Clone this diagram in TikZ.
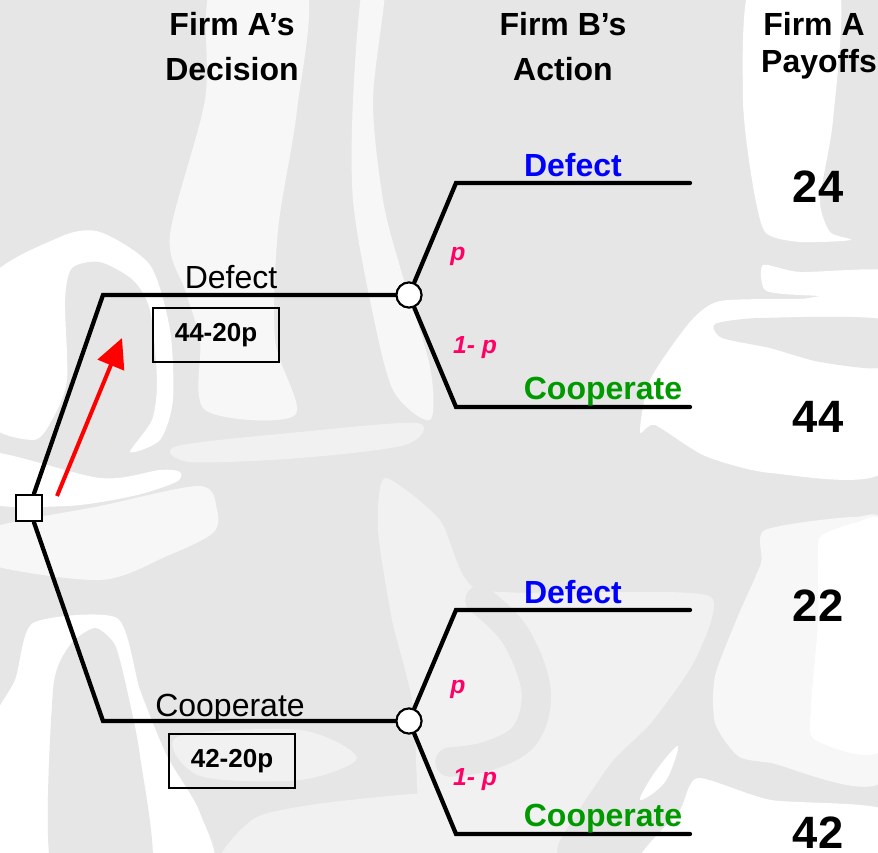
\documentclass[tikz,border=0pt]{standalone}
\usepackage{fontspec}
\setmainfont{Liberation Sans}
\usetikzlibrary{arrows.meta}
\definecolor{bggray}{RGB}{230,230,230}
\definecolor{bglight}{RGB}{247,247,247}
\definecolor{bgmid}{RGB}{241,241,241}
\definecolor{magentap}{RGB}{255,0,102}
\definecolor{greenc}{RGB}{0,153,0}
\begin{document}
\begin{tikzpicture}[x=0.75pt,y=-0.75pt,
  branch/.style={line width=3.2pt, line cap=round, line join=miter},
  decision/.style={draw, fill=white, rectangle, line width=1.5pt, minimum size=20pt, inner sep=0pt},
  chance/.style={draw, fill=white, circle, line width=1.5pt, minimum size=18.75pt, inner sep=0pt},
  hdr/.style={font=\fontsize{24}{28}\selectfont\bfseries, anchor=base, inner sep=0pt},
  lbl/.style={font=\fontsize{24}{28}\selectfont, anchor=base, inner sep=0pt},
  blbl/.style={font=\fontsize{24}{28}\selectfont\bfseries, anchor=base, inner sep=0pt},
  prob/.style={font=\fontsize{18.5}{22}\selectfont\bfseries\itshape, text=magentap, anchor=base, inner sep=0pt},
  pay/.style={font=\fontsize{34}{40}\selectfont\bfseries, anchor=base, inner sep=0pt},
  valbox/.style={draw, line width=1.5pt, minimum width=94.5pt, minimum height=40.5pt, inner sep=0pt, font=\fontsize{19.5}{23}\selectfont\bfseries},
  hand/.style={draw=red, line width=3pt, -{Triangle[length=22pt,width=21pt]}},
  wshape/.style={fill=white},
  lshape/.style={fill=bglight},
  mshape/.style={fill=bgmid}
]
\useasboundingbox (0,0) rectangle (878,853);
\fill[bggray] (0,0) rectangle (878,853);
% ---- decorative background ----
\fill[lshape] plot[smooth cycle, tension=0.5] coordinates {(213,-15) (205,100) (170,235) (185,290) (200,340) (205,410) (295,415) (275,340) (278,230) (297,110) (305,-15)};
\fill[lshape] plot[smooth cycle, tension=0.5] coordinates {(363,-15) (353,100) (353,200) (370,300) (393,390) (430,420) (430,367) (400,267) (383,200) (373,100) (385,-15)};
\fill[mshape] plot[smooth cycle, tension=0.5] coordinates {(177,446) (300,432) (417,423) (405,445) (300,458) (190,462)};
\fill[wshape] plot[smooth cycle, tension=0.45] coordinates {(-15,285) (60,237) (100,232) (150,265) (170,330) (173,400) (160,440) (130,452) (152,420) (157,380) (150,310) (133,280) (100,262) (72,268) (65,300) (67,380) (52,420) (33,440) (-15,417)};
\fill[wshape] plot[smooth cycle, tension=0.5] coordinates {(-15,452) (100,478) (160,470) (180,472) (176,482) (133,496) (67,506) (-15,502)};
\fill[lshape] plot[smooth cycle, tension=0.5] coordinates {(-15,530) (100,506) (200,486) (217,510) (213,533) (167,556) (100,580) (-15,563)};
\fill[wshape] plot[smooth cycle, tension=0.4] coordinates {(33,623) (117,618) (140,690) (167,756) (200,813) (205,875) (-15,875) (-15,740) (15,680)};
\fill[bggray] plot[smooth cycle, tension=0.4] coordinates {(53,875) (53,690) (70,645) (95,628) (115,645) (127,690) (140,756) (150,875)};
\fill[mshape] plot[smooth cycle, tension=0.5] coordinates {(177,737) (300,730) (357,758) (300,780) (200,776)};
\fill[mshape] plot[smooth cycle, tension=0.4] coordinates {(225,875) (255,818) (350,800) (480,795) (480,875)};
\fill[mshape] plot[smooth cycle, tension=0.4] coordinates {(385,478) (440,520) (475,588) (600,592) (711,597) (695,660) (651,723) (611,763) (560,840) (548,875) (430,875) (413,706) (392,620) (378,530)};
\draw[bggray, line width=22pt, line cap=round] plot[smooth, tension=0.6] coordinates {(480,600) (515,635) (536,690) (525,735) (488,756) (450,762)};
\fill[wshape] plot[smooth cycle, tension=0.6] coordinates {(678,746) (655,772) (640,800) (665,782)};
\fill[lshape] plot[smooth cycle, tension=0.4] coordinates {(765,530) (855,517) (885,533) (885,778) (771,763) (738,756) (715,723) (715,676) (738,616) (761,563)};
\fill[wshape] plot[smooth cycle, tension=0.4] coordinates {(821,536) (855,523) (885,530) (885,745) (815,740) (811,706) (818,623) (818,556)};
\fill[wshape] plot[smooth cycle, tension=0.4] coordinates {(698,778) (771,800) (885,810) (885,875) (640,875) (680,810)};
\fill[wshape] plot[smooth cycle, tension=0.4] coordinates {(751,-15) (838,-15) (833,120) (820,200) (830,232) (851,240) (800,242) (765,232) (752,180) (743,100)};
\fill[wshape] plot[smooth cycle, tension=0.4] coordinates {(763,265) (800,272) (885,270) (885,296) (800,295) (765,290)};
\fill[wshape] plot[smooth cycle, tension=0.4] coordinates {(640,432) (650,380) (690,322) (720,301) (800,299) (885,298) (885,470) (771,473) (705,456) (655,425)};
\fill[bggray] plot[smooth cycle, tension=0.4] coordinates {(715,324) (760,318) (885,320) (885,367) (820,362) (770,348) (722,338)};
% ---- tree ----
\node[decision] (root) at (29,508) {};
\coordinate (ua) at (103,295);
\node[chance] (c1) at (409,295) {};
\coordinate (u1) at (456,183);
\coordinate (u1e) at (690,183);
\coordinate (u2) at (456,407);
\coordinate (u2e) at (690,407);
\coordinate (la) at (103,721);
\node[chance] (c2) at (409,721) {};
\coordinate (l1) at (456,610);
\coordinate (l1e) at (690,610);
\coordinate (l2) at (456,834);
\coordinate (l2e) at (690,834);
\draw[branch] (root) -- (ua) -- (c1);
\draw[branch] (root) -- (la) -- (c2);
\draw[branch] (c1) -- (u1) -- (u1e);
\draw[branch] (c1) -- (u2) -- (u2e);
\draw[branch] (c2) -- (l1) -- (l1e);
\draw[branch] (c2) -- (l2) -- (l2e);
\node[decision] at (root) {};
\node[chance] at (c1) {};
\node[chance] at (c2) {};
% ---- headers ----
\node[hdr] (h1a) at (232,35) {Firm A’s};
\node[hdr] (h1b) at (232,80) {Decision};
\node[hdr] (h2a) at (563,35) {Firm B’s};
\node[hdr] (h2b) at (563,80) {Action};
\node[hdr] (h3a) at (814,35) {Firm A};
\node[hdr] (h3b) at (819,72) {Payoffs};
% ---- labels ----
\node[lbl] (ld) at (231,288) {Defect};
\node[lbl] (lc) at (230,716) {Cooperate};
\node[valbox] (v1) at (216,335) {44-20p};
\node[valbox] (v2) at (232,761) {42-20p};
\node[blbl, text=blue] (bd1) at (573,176) {Defect};
\node[blbl, text=greenc] (bc1) at (603,399) {Cooperate};
\node[blbl, text=blue] (bd2) at (573,603) {Defect};
\node[blbl, text=greenc] (bc2) at (603,826) {Cooperate};
\node[prob] (p1) at (458,260) {p};
\node[prob] (q1) at (475,353) {1- p};
\node[prob] (p2) at (458,693) {p};
\node[prob] (q2) at (475,785) {1- p};
\node[pay] (pay1) at (818,202) {24};
\node[pay] (pay2) at (818,432) {44};
\node[pay] (pay3) at (818,621) {22};
\node[pay] (pay4) at (818,848) {42};
% ---- red arrow ----
\coordinate (at) at (57,496);
\coordinate (ah) at (122,338);
\draw[hand] (at) -- (ah);
\end{tikzpicture}
\end{document}
